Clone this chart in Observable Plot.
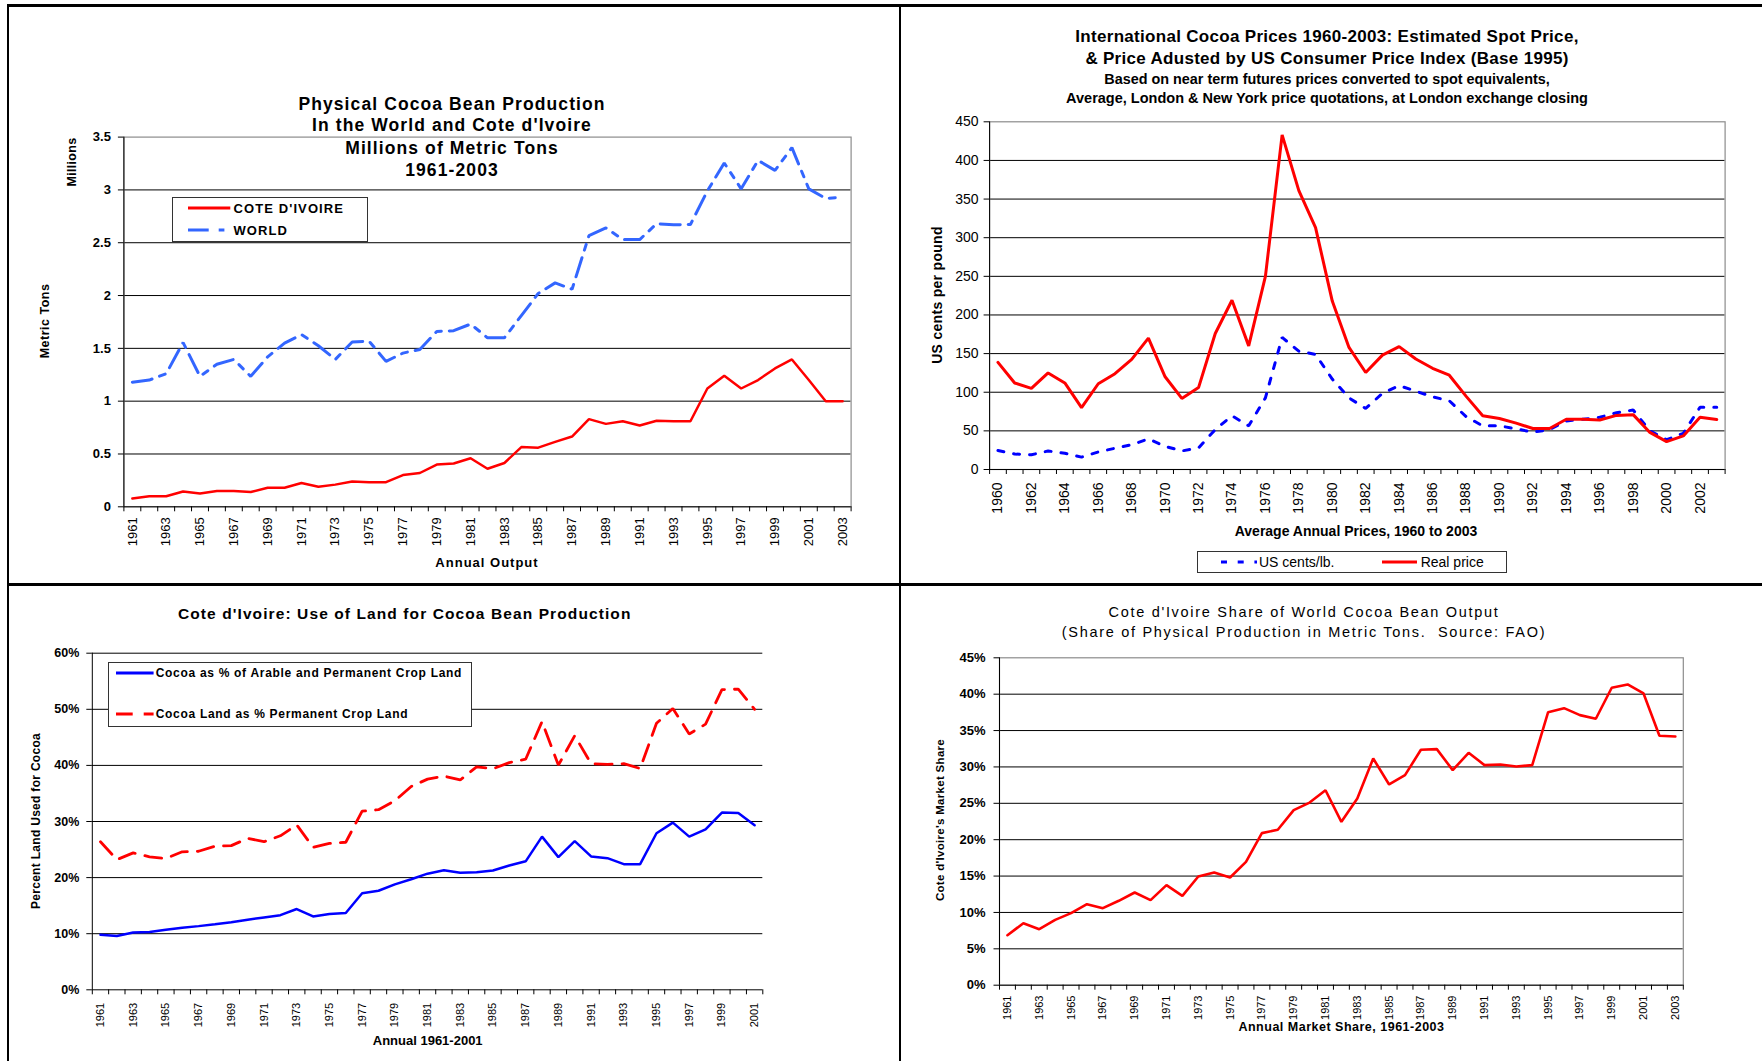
<!DOCTYPE html>
<html><head><meta charset="utf-8">
<script src="https://cdn.jsdelivr.net/npm/d3@7"></script>
<script src="https://cdn.jsdelivr.net/npm/@observablehq/plot@0.6"></script>
<style>
body{margin:0;background:#fff;}
#page{position:relative;width:1762px;height:1061px;overflow:hidden;font-family:"Liberation Sans",Arial,sans-serif;color:#000;background:#fff;}
.t{position:absolute;white-space:pre;transform:translate(-50%,-50%);line-height:1;}
.r{transform:translate(-50%,-50%) rotate(-90deg);}
.lt{position:absolute;white-space:pre;transform:translate(0,-50%);line-height:1;}
.bar{position:absolute;background:#000;}
.leg{position:absolute;background:#fff;border:1px solid #333;box-sizing:border-box;}
.plotbox{position:absolute;}
.plotbox svg{overflow:visible;}
</style></head><body><div id="page"></div><script>
// ---------- Panel 1: Physical cocoa bean production (millions of metric tons)
const years1 = [1961,1962,1963,1964,1965,1966,1967,1968,1969,1970,1971,1972,1973,1974,1975,1976,1977,1978,1979,1980,1981,1982,1983,1984,1985,1986,1987,1988,1989,1990,1991,1992,1993,1994,1995,1996,1997,1998,1999,2000,2001,2002,2003];
const coteDivoire1 = [0.078,0.10,0.10,0.145,0.125,0.15,0.15,0.14,0.18,0.18,0.225,0.19,0.21,0.24,0.233,0.233,0.30,0.32,0.40,0.41,0.46,0.36,0.415,0.565,0.56,0.615,0.665,0.83,0.785,0.81,0.77,0.815,0.81,0.81,1.12,1.24,1.12,1.20,1.31,1.395,1.20,1.00,1.00];
const world1 = [1.18,1.20,1.26,1.555,1.235,1.35,1.395,1.235,1.42,1.55,1.63,1.525,1.395,1.56,1.567,1.377,1.455,1.49,1.66,1.667,1.73,1.60,1.60,1.81,2.02,2.12,2.06,2.567,2.64,2.53,2.53,2.68,2.67,2.673,2.99,3.255,3.01,3.28,3.185,3.40,3.01,2.92,2.93];
const yTicks1 = [0,0.5,1,1.5,2,2.5,3,3.5];

// ---------- Panel 2: International cocoa prices (US cents per pound)
const years2 = [1960,1961,1962,1963,1964,1965,1966,1967,1968,1969,1970,1971,1972,1973,1974,1975,1976,1977,1978,1979,1980,1981,1982,1983,1984,1985,1986,1987,1988,1989,1990,1991,1992,1993,1994,1995,1996,1997,1998,1999,2000,2001,2002,2003];
const usCents2 = [24.6,20,19,24,21,16,22.7,27.5,32,39.6,30,24,28,51.7,69.5,56.5,92.7,171,153,149,117,92.7,79,98.5,108.6,101.4,94,89,68.6,56.5,56.5,52.6,48.3,51.7,62.8,65,67.6,73.4,77,50,38.6,46.8,80.6,80.6];
const realPrice2 = [138.6,112,105,125,112,80,111,124,142.5,170,120,92,106,176,219,160,250,433,361,313,218,158,125.5,148,159,143,131,122,95,69.5,66,60,53,53,65,65,64,70,71,48,36,43.5,67.6,64.7];
const yTicks2 = [0,50,100,150,200,250,300,350,400,450];

// ---------- Panel 3: Use of land for cocoa (percent)
const years3 = [1961,1962,1963,1964,1965,1966,1967,1968,1969,1970,1971,1972,1973,1974,1975,1976,1977,1978,1979,1980,1981,1982,1983,1984,1985,1986,1987,1988,1989,1990,1991,1992,1993,1994,1995,1996,1997,1998,1999,2000,2001];
const arableShare3 = [9.8,9.6,10.2,10.3,10.7,11.05,11.35,11.7,12.06,12.5,12.9,13.3,14.4,13.07,13.5,13.7,17.2,17.65,18.8,19.7,20.7,21.3,20.85,20.97,21.27,22.16,22.9,27.3,23.65,26.5,23.77,23.47,22.4,22.4,27.9,29.8,27.3,28.6,31.6,31.5,29.35];
const permanentShare3 = [26.4,23.2,24.4,23.7,23.4,24.6,24.7,25.6,25.7,27,26.4,27.45,29.4,25.4,26.1,26.3,31.85,32.1,33.7,36.25,37.55,38.1,37.4,39.75,39.4,40.5,41.1,47.8,40.05,45.3,40.3,40.2,40.3,39.45,47.5,50.15,45.6,47.35,53.5,53.6,50.0];
const yTicks3 = [0,10,20,30,40,50,60];

// ---------- Panel 4: Cote d'Ivoire share of world output (percent)
const years4 = [1961,1962,1963,1964,1965,1966,1967,1968,1969,1970,1971,1972,1973,1974,1975,1976,1977,1978,1979,1980,1981,1982,1983,1984,1985,1986,1987,1988,1989,1990,1991,1992,1993,1994,1995,1996,1997,1998,1999,2000,2001,2002,2003];
const marketShare4 = [6.87,8.52,7.7,8.98,9.9,11.14,10.59,11.6,12.74,11.69,13.75,12.28,14.94,15.49,14.8,16.96,20.9,21.36,24.06,25.1,26.8,22.46,25.66,31.16,27.59,28.87,32.36,32.45,29.56,31.94,30.25,30.34,30.06,30.25,37.53,38.08,37.12,36.62,40.88,41.34,40.1,34.28,34.19];
const yTicks4 = [0,5,10,15,20,25,30,35,40,45];

const page = document.getElementById("page");
const FONT = '"Liberation Sans", Arial, sans-serif';

function txt(s, x, y, o = {}) {
  const d = document.createElement("div");
  d.className = o.left ? "lt" : (o.rot ? "t r" : "t");
  d.textContent = s;
  d.style.left = x + "px"; d.style.top = y + "px";
  d.style.fontSize = (o.size || 13) + "px";
  d.style.fontWeight = o.bold ? "bold" : "normal";
  if (o.ls) d.style.letterSpacing = o.ls + "px";
  page.appendChild(d);
}
function bar(x, y, w, h) {
  const d = document.createElement("div");
  d.className = "bar";
  Object.assign(d.style, {left: x + "px", top: y + "px", width: w + "px", height: h + "px"});
  page.appendChild(d);
}
function legendBox(x, y, w, h) {
  const d = document.createElement("div");
  d.className = "leg";
  Object.assign(d.style, {left: x + "px", top: y + "px", width: w + "px", height: h + "px"});
  page.appendChild(d);
}
function swatch(x1, x2, y, stroke, width, dash) {
  const ns = "http://www.w3.org/2000/svg";
  const s = document.createElementNS(ns, "svg");
  s.setAttribute("width", x2 - x1 + 4); s.setAttribute("height", 10);
  s.style.position = "absolute"; s.style.left = (x1 - 2) + "px"; s.style.top = (y - 5) + "px";
  const l = document.createElementNS(ns, "line");
  l.setAttribute("x1", 2); l.setAttribute("x2", x2 - x1 + 2); l.setAttribute("y1", 5); l.setAttribute("y2", 5);
  l.setAttribute("stroke", stroke); l.setAttribute("stroke-width", width);
  if (dash) l.setAttribute("stroke-dasharray", dash);
  s.appendChild(l); page.appendChild(s);
}

function panel(cfg) {
  const years = cfg.years;
  const x0 = years[0] - 0.5, x1 = years[years.length - 1] + 0.5;
  const bounds = years.map(d => d - 0.5).concat([x1]);
  const labelYears = years.filter((d, i) => i % 2 === 0);
  const marks = [
    Plot.ruleY(cfg.yTicks.slice(1, cfg.frame ? -1 : undefined), {stroke: "#000", strokeWidth: 1}),
  ];
  if (cfg.frame) marks.push(Plot.frame({stroke: "#8c8c8c", strokeWidth: 1.2}));
  marks.push(
    Plot.ruleX([x0], {stroke: "#000", strokeWidth: 1}),
    Plot.ruleY([cfg.yTicks[0]], {stroke: "#000", strokeWidth: 1}),
    Plot.axisY({ticks: cfg.yTicks, tickSize: 5.5, tickPadding: cfg.yPad, tickFormat: cfg.yFmt,
      fontSize: cfg.yFont, fontWeight: cfg.yBold ? "bold" : "normal", label: null}),
    Plot.axisX({ticks: bounds, tickSize: 5, tickFormat: () => "", label: null}),
    Plot.axisX({ticks: labelYears, tickSize: 0, tickPadding: cfg.xPad, tickRotate: -90,
      tickFormat: d => String(d), fontSize: cfg.xFont, label: null})
  );
  for (const s of cfg.series) {
    marks.push(Plot.line(s.values, {x: years, y: s.values, stroke: s.stroke, strokeWidth: s.width,
      strokeDasharray: s.dash, strokeLinejoin: "miter"}));
  }
  const chart = Plot.plot({
    width: cfg.width, height: cfg.height,
    marginLeft: cfg.m[0], marginRight: cfg.m[1], marginTop: cfg.m[2], marginBottom: cfg.m[3],
    x: {type: "linear", domain: [x0, x1]},
    y: {type: "linear", domain: [cfg.yTicks[0], cfg.yTicks[cfg.yTicks.length - 1]]},
    style: {background: "transparent", overflow: "visible", fontFamily: FONT, maxWidth: "none", color: "#000"},
    marks
  });
  const box = document.createElement("div");
  box.className = "plotbox";
  box.style.left = cfg.left + "px"; box.style.top = cfg.top + "px";
  box.appendChild(chart);
  page.appendChild(box);
}

// Panel 1
panel({left: 0, top: 0, width: 900, height: 584, m: [123.4, 49.4, 136.6, 77.7],
  years: years1, yTicks: yTicks1, yFmt: d => String(d), yFont: 13, yBold: true, yPad: 7.5,
  xFont: 13, xPad: 10.5, frame: true,
  series: [
    {values: world1, stroke: "#3366ff", width: 3, dash: "20,8,6,8"},
    {values: coteDivoire1, stroke: "#ff0000", width: 2.5}
  ]});
// Panel 2
panel({left: 900, top: 0, width: 862, height: 584, m: [89.1, 37.4, 121.3, 115],
  years: years2, yTicks: yTicks2, yFmt: d => String(d), yFont: 14, yBold: false, yPad: 5.5,
  xFont: 14, xPad: 13, frame: true,
  series: [
    {values: usCents2, stroke: "#0000ff", width: 3, dash: "6,10"},
    {values: realPrice2, stroke: "#ff0000", width: 3}
  ]});
// Panel 3
panel({left: 0, top: 584, width: 900, height: 477, m: [91.8, 137.7, 68.7, 71.7],
  years: years3, yTicks: yTicks3, yFmt: d => d + "%", yFont: 12.5, yBold: true, yPad: 7.5,
  xFont: 11, xPad: 13, frame: false,
  series: [
    {values: permanentShare3, stroke: "#ff0000", width: 2.8, dash: "17,10"},
    {values: arableShare3, stroke: "#0000ff", width: 2.5}
  ]});
// Panel 4
panel({left: 900, top: 584, width: 862, height: 477, m: [99, 79.2, 73.3, 76.3],
  years: years4, yTicks: yTicks4, yFmt: d => d + "%", yFont: 13, yBold: true, yPad: 8.5,
  xFont: 11, xPad: 10.3, frame: true,
  series: [
    {values: marketShare4, stroke: "#ff0000", width: 2.6}
  ]});

// Outer frame and dividers
bar(7, 4, 1755, 3);
bar(7, 4, 2, 1057);
bar(899, 4, 2, 1057);
bar(7, 583, 1755, 3);

// Panel 1 texts
txt("Physical Cocoa Bean Production", 452, 104.5, {size: 17.5, bold: true, ls: 1.1});
txt("In the World and Cote d'Ivoire", 452, 126.1, {size: 17.5, bold: true, ls: 1.1});
txt("Millions of Metric Tons", 452, 148.5, {size: 17.5, bold: true, ls: 1.1});
txt("1961-2003", 452, 170.9, {size: 17.5, bold: true, ls: 1.1});
txt("Millions", 72, 162, {size: 12.5, bold: true, rot: true, ls: 0.3});
txt("Metric Tons", 45, 321, {size: 12.5, bold: true, rot: true, ls: 0.5});
txt("Annual Output", 487, 561.5, {size: 13, bold: true, ls: 1});
legendBox(171.7, 197.3, 196.6, 44.4);
swatch(187.7, 230, 208.3, "#ff0000", 3);
swatch(187.7, 230, 230, "#3366ff", 3, "20.7,10,5.7,40");
txt("COTE D'IVOIRE", 233.5, 208.3, {left: true, size: 13, bold: true, ls: 1.1});
txt("WORLD", 233.5, 230, {left: true, size: 13, bold: true, ls: 1.1});

// Panel 2 texts
txt("International Cocoa Prices 1960-2003: Estimated Spot Price,", 1327, 36.2, {size: 17, bold: true, ls: 0.3});
txt("& Price Adusted by US Consumer Price Index (Base 1995)", 1327, 57.8, {size: 17, bold: true, ls: 0.3});
txt("Based on near term futures prices converted to spot equivalents,", 1327, 79.1, {size: 14.4, bold: true});
txt("Average, London & New York price quotations, at London exchange closing", 1327, 98.1, {size: 14.5, bold: true});
txt("US cents per pound", 937, 295, {size: 14, bold: true, rot: true, ls: 0.3});
txt("Average Annual Prices, 1960 to 2003", 1356, 531, {size: 14, bold: true});
legendBox(1196.7, 550.7, 310.6, 22.6);
swatch(1220.7, 1256.7, 562.3, "#0000ff", 3, "6,10.7");
swatch(1382, 1417, 562.3, "#ff0000", 3);
txt("US cents/lb.", 1259, 562.3, {left: true, size: 14});
txt("Real price", 1420.7, 562.3, {left: true, size: 14});

// Panel 3 texts
txt("Cote d'Ivoire: Use of Land for Cocoa Bean Production", 404.7, 613.7, {size: 15.5, bold: true, ls: 1.1});
txt("Percent Land Used for Cocoa", 35.6, 821.3, {size: 12, bold: true, rot: true, ls: 0.3});
txt("Annual 1961-2001", 427.7, 1040.3, {size: 13, bold: true});
legendBox(108.3, 662.3, 364, 64.4);
swatch(115.7, 153.3, 673.3, "#0000ff", 3);
swatch(115.7, 153.3, 714, "#ff0000", 3, "16.7,11");
txt("Cocoa as % of Arable and Permanent Crop Land", 155.7, 673.3, {left: true, size: 12, bold: true, ls: 0.7});
txt("Cocoa Land as % Permanent Crop Land", 155.7, 714, {left: true, size: 12, bold: true, ls: 0.7});

// Panel 4 texts
txt("Cote d'Ivoire Share of World Cocoa Bean Output", 1304, 612, {size: 14.5, ls: 1.7});
txt("(Share of Physical Production in Metric Tons.  Source: FAO)", 1304, 632, {size: 14.5, ls: 1.7});
txt("Cote d'Ivoire's Market Share", 941, 820, {size: 11.5, bold: true, rot: true, ls: 0.3});
txt("Annual Market Share, 1961-2003", 1341.5, 1027, {size: 12.5, bold: true, ls: 0.5});
</script></body></html>
